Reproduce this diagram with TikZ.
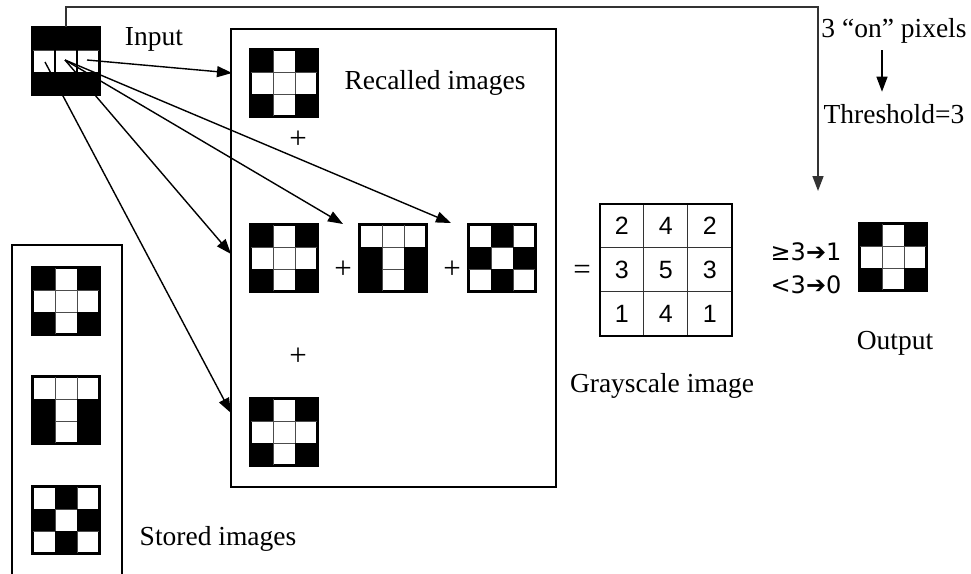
\documentclass[tikz,border=0pt]{standalone}
\usepackage{fontspec}
\setmainfont{Liberation Serif}
\newfontfamily\digitfont{Liberation Sans}
\newfontfamily\symfont{DejaVu Sans}
\usetikzlibrary{arrows.meta,calc}

\tikzset{
  lbl/.style={inner sep=0pt, anchor=base, font=\fontsize{27.5}{30}\selectfont},
  op/.style={inner sep=0pt, font=\fontsize{31}{34}\selectfont},
  frame/.style={draw, line width=1.6pt, inner sep=0pt},
  arr/.style={line width=1.4pt, -{Triangle[length=15pt,width=11pt]}},
  gridbox/.style={draw, line width=1.6pt, minimum size=66pt, inner sep=0pt, fill=white},
  cellline/.style={line width=0.9pt, draw=black!70},
  numcell/.style={draw=black!80, line width=1.4pt, minimum size=44pt, inner sep=0pt,
    anchor=north west, font=\digitfont\fontsize{25}{28}\selectfont},
  rule/.style={inner sep=0pt, anchor=base, font=\symfont\fontsize{24}{28}\selectfont},
}

% 3x3 binary pattern: #1 name, #2 left, #3 top, #4 black cells as col/row
\newcommand\pixgrid[4]{%
  \node[gridbox] (#1) at ({#2+33},{#3+33}) {};
  \foreach \k in {1,2} {
    \draw[cellline] ({#2+\k*22},#3) -- ++(0,66);
    \draw[cellline] (#2,{#3+\k*22}) -- ++(66,0);
  }
  \foreach \c/\r in {#4} \fill ({#2+\c*22},{#3+\r*22}) rectangle ++(22,22);
  \draw[line width=1.6pt] (#1.north west) rectangle (#1.south east);
}

\begin{document}
\begin{tikzpicture}[x=1pt, y=-1pt]
\useasboundingbox (0,0) rectangle (971,573);

% frames
\node[frame, minimum width=325pt, minimum height=458pt] (recalled) at (393.5,258) {};
\node[frame, minimum width=110pt, minimum height=360pt] (stored) at (67,425) {};

% input pattern
\pixgrid{in}{33}{28}{0/0,1/0,2/0,0/2,1/2,2/2}
\draw[line width=1.6pt] (55,50) -- (55,72) (77,50) -- (77,72);
\coordinate (inL) at (45,62);
\coordinate (inM) at (65,60);
\coordinate (inR) at (87,60);

% recalled images
\pixgrid{r1}{251}{50}{0/0,2/0,0/2,2/2}
\pixgrid{r2}{251}{225}{0/0,2/0,0/2,2/2}
\pixgrid{r3}{360}{225}{0/1,2/1,0/2,2/2}
\pixgrid{r4}{469}{225}{1/0,0/1,2/1,1/2}
\pixgrid{r5}{251}{399}{0/0,2/0,0/2,2/2}

% stored images
\pixgrid{s1}{33}{268}{0/0,2/0,0/2,2/2}
\pixgrid{s2}{33}{377}{0/1,2/1,0/2,2/2}
\pixgrid{s3}{33}{487}{1/0,0/1,2/1,1/2}

% output
\pixgrid{out}{860}{224}{0/0,2/0,0/2,2/2}

% grayscale sums
\foreach \row/\vals in {0/{2,4,2},1/{3,5,3},2/{1,4,1}}
  \foreach \v [count=\c from 0] in \vals
    \node[numcell] (n\row\c) at ({599+\c*44},{203+\row*44}) {\v};
\node[draw, line width=1.6pt, minimum size=132pt, inner sep=0pt, anchor=north west] (gray) at (599,203) {};

% operators
\node[op] (p1) at (298,140) {+};
\node[op] (p2) at (343,270) {+};
\node[op] (p3) at (452,270) {+};
\node[op] (p4) at (298,357) {+};
\node[op] (eq) at (582,272) {=};

% labels
\node[lbl] (lin) at (154,45) {Input};
\node[lbl] (lrec) at (435,89) {Recalled images};
\node[lbl] (lsto) at (218,545) {Stored images};
\node[lbl] (lgray) at (662,392) {Grayscale image};
\node[lbl] (lout) at (895,349) {Output};
\node[lbl] (lon) at (894,37) {3 “on” pixels};
\node[lbl] (lthr) at (894,123) {Threshold=3};
\node[rule] (rhi) at (806,260) {≥3➔1};
\node[rule] (rlo) at (806,293) {<3➔0};

% recall connectors
\coordinate (a1) at (232,73);
\coordinate (a2) at (343,224);
\coordinate (a3) at (451,223);
\coordinate (a4) at (231,254);
\coordinate (a5) at (231,413);
\draw[arr] (inR) -- (a1);
\draw[arr] (inM) -- (a2);
\draw[arr] (inM) -- (a3);
\draw[arr] (inM) -- (a4);
\draw[arr] (inL) -- (a5);

% threshold path
\coordinate (bend) at (66,7);
\coordinate (tip) at (818,191);
\draw[arr, draw=black!80, line width=1.5pt] (in.north) -- (bend) -| (tip);
\draw[arr, line width=1.3pt, shorten <=7pt, shorten >=12pt] ([xshift=-12pt]lon.south) -- ([xshift=-12pt]lthr.north);
\end{tikzpicture}
\end{document}
